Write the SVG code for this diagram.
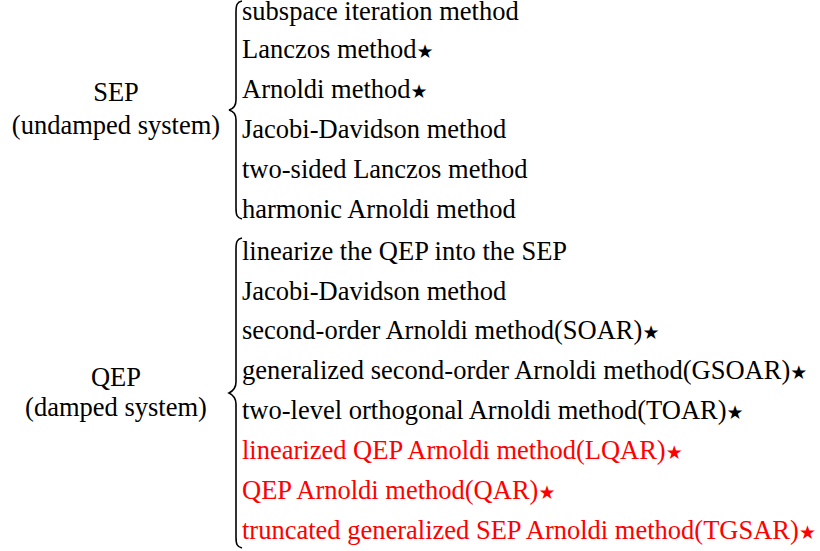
<svg xmlns="http://www.w3.org/2000/svg" width="820" height="551" viewBox="0 0 820 551">
  <style>
    text { font-family: 'Liberation Serif', 'Times New Roman', Times, serif; font-size: 26.5px; fill: #000; }
    .red { fill: #ff0000; }
    .lbl { text-anchor: middle; }
    .star { font-family: 'DejaVu Sans', sans-serif; font-size: 19px; }
    .brace { fill: none; stroke: #000; stroke-width: 1.6; }
  </style>
  <rect width="820" height="551" fill="#fff"/>

  <g id="sep">
    <text class="lbl" x="116" y="101">SEP</text>
    <text class="lbl" x="116" y="134">(undamped system)</text>
  </g>
  <g id="qep">
    <text class="lbl" x="116" y="386">QEP</text>
    <text class="lbl" x="116" y="416">(damped system)</text>
  </g>

  <g id="braces">
    <path class="brace" d="M242,1 C237,2 236,5 236,12 L236,100 C236,106 233,109 229,110 C233,111 236,114 236,120 L236,208 C236,215 237,218 242,219"/>
    <path class="brace" d="M242,238 C237,239 236,242 236,249 L236,382 C236,388 233,391 229,393 C233,395 236,398 236,404 L236,537 C236,544 237,547 242,548"/>
  </g>

  <g id="sep-methods">
    <text x="242" y="20">subspace iteration method</text>
    <text x="242" y="58">Lanczos method<tspan class="star">★</tspan></text>
    <text x="242" y="98">Arnoldi method<tspan class="star">★</tspan></text>
    <text x="242" y="138">Jacobi-Davidson method</text>
    <text x="242" y="178">two-sided Lanczos method</text>
    <text x="242" y="218">harmonic Arnoldi method</text>
  </g>

  <g id="qep-methods">
    <text x="242" y="260">linearize the QEP into the SEP</text>
    <text x="242" y="300">Jacobi-Davidson method</text>
    <text x="242" y="339">second-order Arnoldi method(SOAR)<tspan class="star">★</tspan></text>
    <text x="242" y="379">generalized second-order Arnoldi method(GSOAR)<tspan class="star">★</tspan></text>
    <text x="242" y="419">two-level orthogonal Arnoldi method(TOAR)<tspan class="star">★</tspan></text>
    <text class="red" x="242" y="459">linearized QEP Arnoldi method(LQAR)<tspan class="star">★</tspan></text>
    <text class="red" x="242" y="499">QEP Arnoldi method(QAR)<tspan class="star">★</tspan></text>
    <text class="red" x="242" y="539">truncated generalized SEP Arnoldi method(TGSAR)<tspan class="star">★</tspan></text>
  </g>
</svg>
